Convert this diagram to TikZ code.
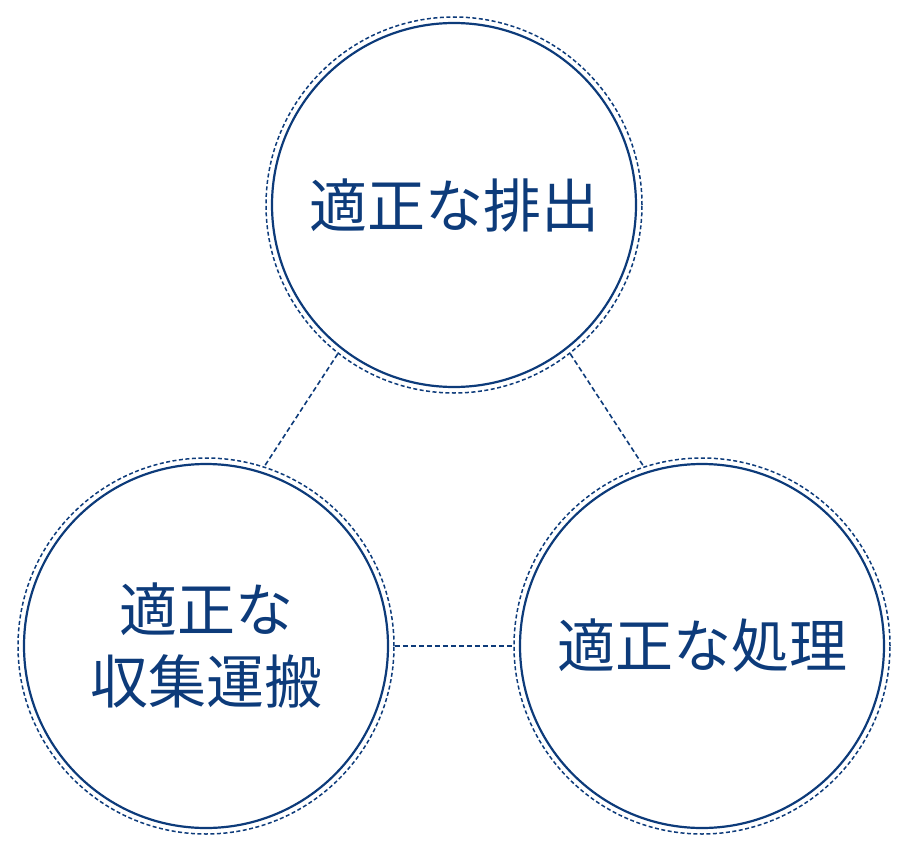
\documentclass[tikz,border=0pt]{standalone}
\usepackage{fontspec}
\newfontfamily\cjk{Noto Sans CJK JP}
\definecolor{navy}{HTML}{0D3B7A}

\tikzset{
  ring/.style={circle,draw=navy,line width=1.5pt,dash pattern=on 4pt off 2.5pt,minimum size=376pt,inner sep=0pt,
    font=\cjk\fontsize{58}{72}\selectfont,text=navy,align=center},
  link/.style={draw=navy,line width=1.6pt,dash pattern=on 5pt off 3pt}
}

\begin{document}
\begin{tikzpicture}[x=1pt,y=-1pt]
        % Fix the page size
        \useasboundingbox (0,0) rectangle (905,859);

        % Outer dashed circles with labels
        \node[ring] (top) at (454,205) {適正な排出};
        \node[ring] (lft) at (206,646) {適正な\\収集運搬};
        \node[ring] (rgt) at (702,646) {適正な処理};

        % Inner solid circles
        \draw[navy,line width=2.2pt] (top) circle[radius=182];
        \draw[navy,line width=2.2pt] (lft) circle[radius=182];
        \draw[navy,line width=2.2pt] (rgt) circle[radius=182];

        % Dashed links between the circles
        \draw[link] (top.232) -- (lft.72);
        \draw[link] (top.308) -- (rgt.108);
        \draw[link] (lft.east) -- (rgt.west);
    \end{tikzpicture}
\end{document}
